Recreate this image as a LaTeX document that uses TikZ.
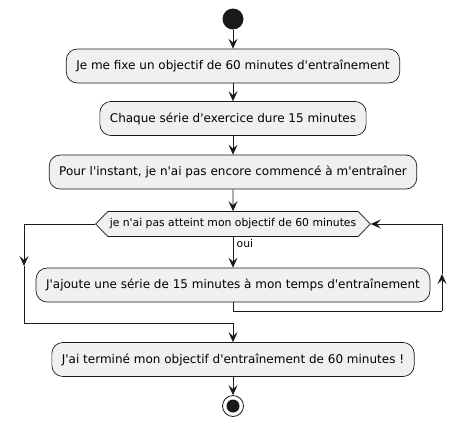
\documentclass[tikz,border=0pt]{standalone}
\usepackage{fontspec}
\setmainfont{DejaVu Sans}[Ligatures=TeXOff]
\usetikzlibrary{arrows.meta,shapes.symbols}

\begin{document}
\begin{tikzpicture}[x=1pt,y=-1pt,
    actstyle/.style={rectangle, rounded corners=11, draw=black!90, fill=black!6, line width=0.7pt,
      minimum height=34, inner xsep=10, font=\fontsize{12}{14}\selectfont},
    condstyle/.style={signal, signal to=east and west, signal pointer angle=92, draw=black!90,
      fill=black!6, line width=0.7pt, minimum height=25, inner xsep=2, inner ysep=1,
      font=\fontsize{10.8}{13}\selectfont},
    flow/.style={draw=black!90, line width=0.8pt},
    tip/.style={-{Stealth[length=10pt,width=9pt,inset=4pt]}}]
  \useasboundingbox (0,0) rectangle (466,429);

  \node [circle, fill=black!90, minimum size=21, inner sep=0] (start) at (233,19) {};
  \node [actstyle] (fixe) at (233,66) {Je me fixe un objectif de 60 minutes d'entraînement};
  \node [actstyle] (serie) at (233,118.5) {Chaque série d'exercice dure 15 minutes};
  \node [actstyle] (instant) at (233,172) {Pour l'instant, je n'ai pas encore commencé à m'entraîner};
  \node [condstyle] (cond) at (233,224) {je n'ai pas atteint mon objectif de 60 minutes};
  \node [actstyle] (ajoute) at (233,285) {J'ajoute une série de 15 minutes à mon temps d'entraînement};
  \node [actstyle] (fin) at (233,359.5) {J'ai terminé mon objectif d'entraînement de 60 minutes !};
  \node [circle, draw=black!90, line width=0.8pt, minimum size=21, inner sep=0] (stop) at (233,406) {};
  \node [circle, fill=black!90, minimum size=13, inner sep=0] at (stop) {};

  % main line
  \foreach \a/\b in {start/fixe, fixe/serie, serie/instant, instant/cond}
    \draw [flow, tip] (\a) -- (\b);
  \draw [flow, tip] (cond.south) -- node [right, pos=0.2, font=\fontsize{10.8}{13}\selectfont] {oui} (ajoute.north);

  % loop back
  \coordinate (rb) at (233,311);
  \coordinate (rc) at (442,311);
  \coordinate (rm) at (442,274);
  \coordinate (rt) at (442,224);
  \draw [flow] (ajoute.south) -- (rb) -- (rc);
  \draw [flow, tip] (rc) -- (rm);
  \draw [flow, tip] (rm) -- (rt) -- (cond.east);

  % exit
  \coordinate (lt) at (24,224);
  \coordinate (lm) at (24,266);
  \coordinate (lb) at (24,323);
  \coordinate (mb) at (233,323);
  \draw [flow, tip] (cond.west) -- (lt) -- (lm);
  \draw [flow] (lm) -- (lb) -- (mb);
  \draw [flow, tip] (mb) -- (fin.north);
  \draw [flow, tip] (fin) -- (stop);
\end{tikzpicture}
\end{document}
